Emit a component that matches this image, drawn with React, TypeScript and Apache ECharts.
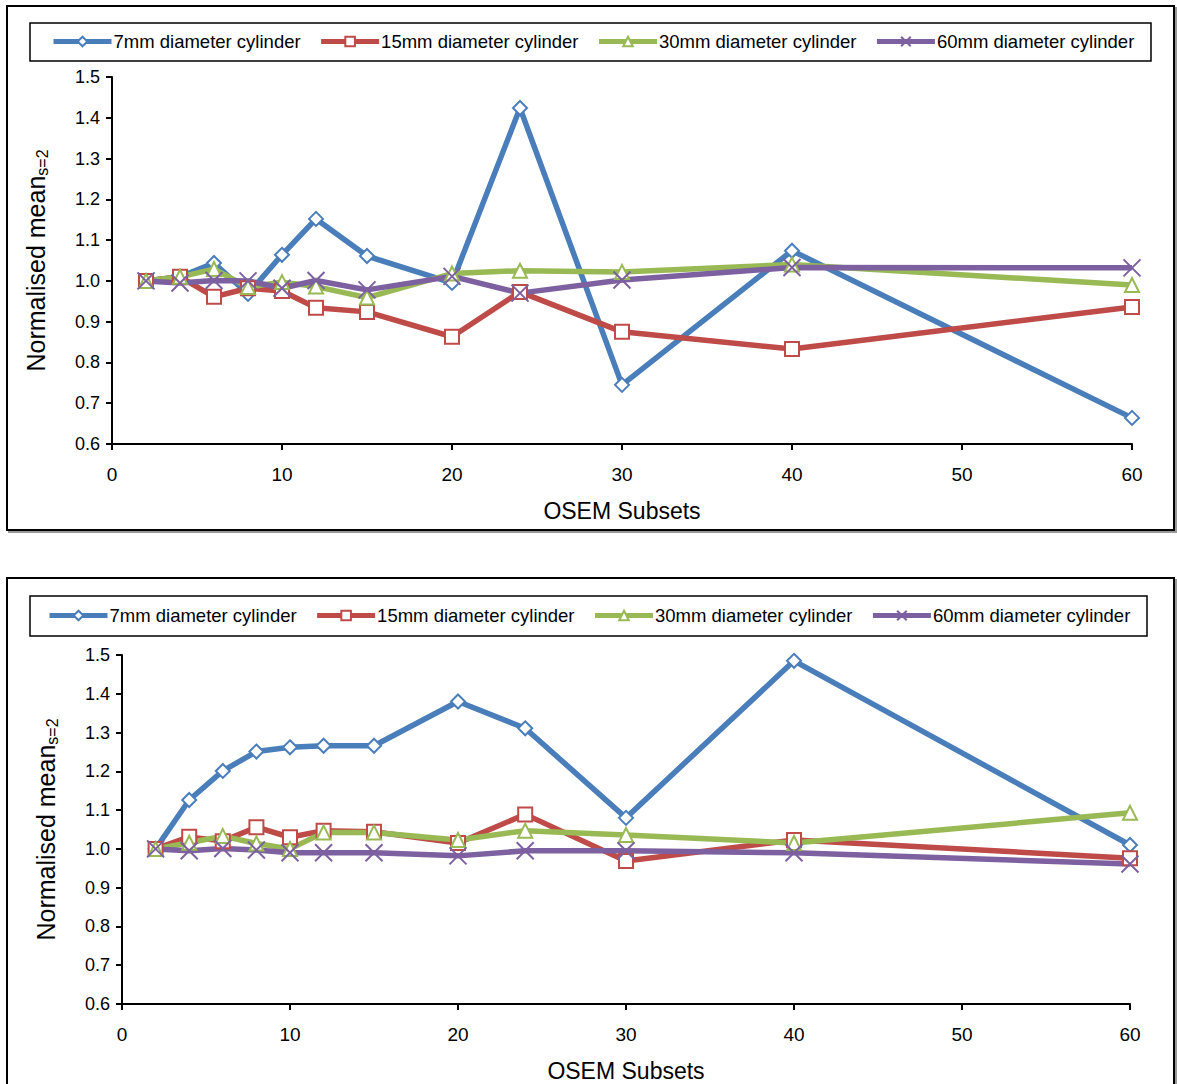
import React, { useEffect, useRef } from "react";
import * as echarts from "echarts";

const subsets = [2, 4, 6, 8, 10, 12, 15, 20, 24, 30, 40, 60];
const seriesNames = [
  "7mm diameter cylinder",
  "15mm diameter cylinder",
  "30mm diameter cylinder",
  "60mm diameter cylinder",
];
const yTicks = [0.6, 1.5];

// Top chart
const top7mm = [1.0, 1.01, 1.044, 0.968, 1.064, 1.152, 1.061, 0.995, 1.424, 0.745, 1.074, 0.664];
const top15mm = [1.0, 1.01, 0.961, 0.982, 0.975, 0.934, 0.924, 0.863, 0.973, 0.875, 0.833, 0.936];
const top30mm = [1.0, 1.01, 1.029, 0.985, 0.997, 0.986, 0.959, 1.018, 1.025, 1.022, 1.04, 0.99];
const top60mm = [1.0, 0.995, 1.001, 1.0, 0.982, 1.001, 0.978, 1.011, 0.97, 1.002, 1.033, 1.032];

// Bottom chart
const bot7mm = [1.0, 1.126, 1.201, 1.251, 1.262, 1.266, 1.266, 1.38, 1.311, 1.08, 1.485, 1.01];
const bot15mm = [1.0, 1.031, 1.02, 1.056, 1.03, 1.047, 1.044, 1.015, 1.089, 0.969, 1.023, 0.976];
const bot30mm = [1.0, 1.016, 1.033, 1.014, 1.0, 1.042, 1.042, 1.023, 1.047, 1.036, 1.015, 1.093];
const bot60mm = [1.0, 0.995, 1.001, 0.997, 0.99, 0.99, 0.99, 0.982, 0.995, 0.995, 0.99, 0.961];

const colors = ["#4A7EBB", "#BE4B48", "#98B954", "#7D60A0"];
const symbols = [
  "emptyDiamond",
  "emptyRect",
  "emptyTriangle",
  "path://M0,0L10,10M10,0L0,10",
];
const symbolSizes = [14, 14, 14, 17];

const FONT = "Liberation Sans, Arial, sans-serif";

function makeSeries(datasets: number[][], axisIndex: number) {
  return datasets.map((vals, k) => ({
    name: seriesNames[k],
    type: "line",
    xAxisIndex: axisIndex,
    yAxisIndex: axisIndex,
    data: subsets.map((x, i) => [x, vals[i]]),
    symbol: symbols[k],
    symbolSize: symbolSizes[k],
    showAllSymbol: true,
    lineStyle: { color: colors[k], width: 5.5 },
    itemStyle: {
      color: colors[k],
      borderColor: colors[k],
      borderWidth: 2,
    },
    emphasis: { disabled: true },
  }));
}

function makeAxes(idx: number) {
  const xAxis = {
    gridIndex: idx,
    type: "value",
    min: 0,
    max: 60,
    interval: 10,
    name: "OSEM Subsets",
    nameLocation: "middle",
    nameGap: 55,
    nameTextStyle: { fontSize: 23, color: "#000", fontFamily: FONT },
    axisLine: { show: true, lineStyle: { color: "#000", width: 2 } },
    axisTick: { show: true, length: 6, lineStyle: { color: "#000", width: 2 } },
    axisLabel: { fontSize: 19, color: "#000", margin: 21, fontFamily: FONT },
    splitLine: { show: false },
  };
  const yAxis = {
    gridIndex: idx,
    type: "value",
    min: yTicks[0],
    max: yTicks[1],
    interval: 0.1,
    name: "Normalised mean{s|s=2}",
    nameLocation: "middle",
    nameGap: 62,
    nameTextStyle: {
      fontSize: 25,
      color: "#000",
      fontFamily: FONT,
      rich: {
        s: { fontSize: 16, color: "#000", fontFamily: FONT, verticalAlign: "bottom", padding: [12, 0, 0, 0] },
      },
    },
    axisLine: { show: true, lineStyle: { color: "#000", width: 2 } },
    axisTick: { show: true, length: 6, lineStyle: { color: "#000", width: 2 } },
    axisLabel: {
      fontSize: 18,
      color: "#000",
      margin: 12,
      fontFamily: FONT,
      formatter: (v: number) => v.toFixed(1),
    },
    splitLine: { show: false },
  };
  return { xAxis, yAxis };
}

export default function App() {
  const ref = useRef<HTMLDivElement>(null);
  useEffect(() => {
    if (!ref.current) return;
    const chart = echarts.init(ref.current, null, { renderer: "svg" });
    const a0 = makeAxes(0);
    const a1 = makeAxes(1);
    const legendCommon = {
      data: seriesNames,
      itemWidth: 58,
      itemHeight: 12,
      itemGap: 18,
      selectedMode: false,
      lineStyle: { width: 5 },
      textStyle: { fontSize: 18.5, color: "#000", fontFamily: FONT, padding: [0, 0, 0, -3] },
    };
    const option = {
      animation: false,
      backgroundColor: "#ffffff",
      graphic: [
        { type: "rect", shape: { x: 9, y: 8, width: 1167, height: 524 }, style: { fill: "none", stroke: "#999", lineWidth: 2 }, z: 0 },
        { type: "rect", shape: { x: 7, y: 6, width: 1167, height: 524 }, style: { fill: "#fff", stroke: "#000", lineWidth: 2 }, z: 0 },
        { type: "rect", shape: { x: 30, y: 23, width: 1121, height: 38 }, style: { fill: "none", stroke: "#000", lineWidth: 1.5 }, z: 1 },
        { type: "rect", shape: { x: 9, y: 580, width: 1167, height: 520 }, style: { fill: "none", stroke: "#999", lineWidth: 2 }, z: 0 },
        { type: "rect", shape: { x: 7, y: 578, width: 1167, height: 520 }, style: { fill: "#fff", stroke: "#000", lineWidth: 2 }, z: 0 },
        { type: "rect", shape: { x: 30, y: 596, width: 1117, height: 40 }, style: { fill: "none", stroke: "#000", lineWidth: 1.5 }, z: 1 },
      ],
      legend: [
        { ...legendCommon, left: 46, top: 27 },
        { ...legendCommon, left: 42, top: 601 },
      ],
      grid: [
        { left: 112, right: 45, top: 77, bottom: 640 },
        { left: 122, right: 47, top: 655, bottom: 80 },
      ],
      xAxis: [a0.xAxis, a1.xAxis],
      yAxis: [a0.yAxis, a1.yAxis],
      series: [
        ...makeSeries([top7mm, top15mm, top30mm, top60mm], 0),
        ...makeSeries([bot7mm, bot15mm, bot30mm, bot60mm], 1),
      ],
    };
    chart.setOption(option as any);
    return () => chart.dispose();
  }, []);
  return (
    <div
      ref={ref}
      style={{ position: "fixed", left: 0, top: 0, width: 1177, height: 1084, background: "#fff" }}
    />
  );
}
